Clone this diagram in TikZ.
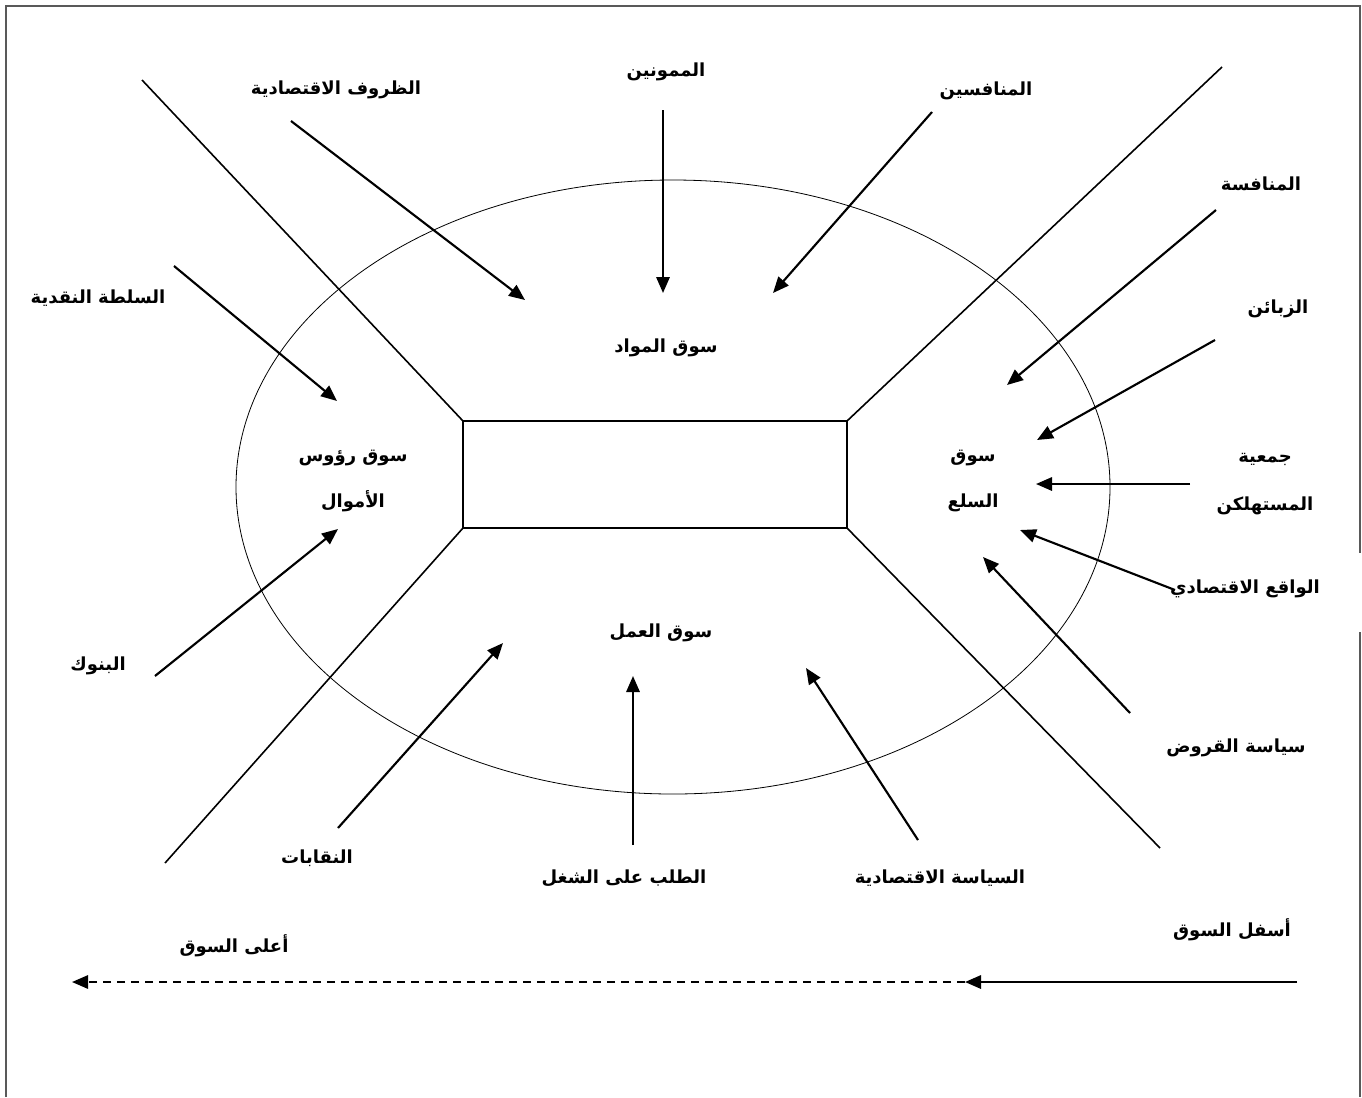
\documentclass[tikz,border=0pt]{standalone}
\usepackage{fontspec}
\usetikzlibrary{arrows.meta,shapes.geometric}
\TeXXeTstate=1
\newfontfamily\arabicfont[Script=Arabic]{DejaVu Sans}
\newcommand{\artxt}[1]{{\arabicfont\bfseries\beginR #1\endR}}
\tikzset{
  lbl/.style={inner sep=1pt, font=\fontsize{13.5}{36}\selectfont, align=center},
  mkt/.style={inner sep=1pt, font=\fontsize{13.5}{34}\selectfont, align=center},
  tip/.style={-{Triangle[length=12pt,width=10pt]}},
  flow/.style={line width=1.6pt, tip},
  frame/.style={line width=0.9pt, draw=black!65},
  edge/.style={line width=1.2pt},
}
\begin{document}
\begin{tikzpicture}[x=0.75pt,y=-0.75pt]
\useasboundingbox (0,0) rectangle (1362,1097);

% page frame (open at the bottom)
\draw[frame] (6,1097) -- (6,6) -- (1360,6) -- (1360,553);
\draw[frame] (1360,632) -- (1360,1097);

% market ellipse and central firm
\node[draw, ellipse, minimum width=874*0.75pt, minimum height=614*0.75pt, line width=0.6pt, inner sep=0pt] (ell) at (673,487) {};
\coordinate (r1) at (463,421);
\coordinate (r2) at (847,421);
\coordinate (r3) at (847,528);
\coordinate (r4) at (463,528);
\draw[edge] (r1) rectangle (r3);

% corner rays
\coordinate (d1) at (142,80);
\coordinate (d2) at (1222,67);
\coordinate (d3) at (165,863);
\coordinate (d4) at (1160,848);
\draw[edge] (d1) -- (r1);
\draw[edge] (d2) -- (r2);
\draw[edge] (d3) -- (r4);
\draw[edge] (d4) -- (r3);

% market labels
\node[mkt] (mmat) at (666,348) {\artxt{سوق المواد}};
\node[mkt] (mcap) at (353,481) {\artxt{سوق رؤوس}\\\artxt{الأموال}};
\node[mkt] (mgoods) at (973,481) {\artxt{سوق}\\\artxt{السلع}};
\node[mkt] (mlab) at (661,633) {\artxt{سوق العمل}};

% external factors
\node[lbl] (t1) at (336,90) {\artxt{الظروف الاقتصادية}};
\node[lbl] (t2) at (666,72) {\artxt{الممونين}};
\node[lbl] (t3) at (986,91) {\artxt{المنافسين}};
\node[lbl] (t4) at (1261,184) {\artxt{المنافسة}};
\node[lbl] (t5) at (1278,309) {\artxt{الزبائن}};
\node[lbl] (t6) at (1265,484) {\artxt{جمعية}\\\artxt{المستهلكن}};
\node[lbl] (t7) at (1245,589) {\artxt{الواقع الاقتصادي}};
\node[lbl] (t8) at (1236,748) {\artxt{سياسة القروض}};
\node[lbl] (t9) at (940,878) {\artxt{السياسة الاقتصادية}};
\node[lbl] (t10) at (624,878) {\artxt{الطلب على الشغل}};
\node[lbl] (t11) at (317,858) {\artxt{النقابات}};
\node[lbl] (t12) at (98,666) {\artxt{البنوك}};
\node[lbl] (t13) at (98,298) {\artxt{السلطة النقدية}};
\node[lbl] (t14) at (234,946) {\artxt{أعلى السوق}};
\node[lbl] (t15) at (1232,930) {\artxt{أسفل السوق}};

% arrow end points
\coordinate (a1s) at (291,121);  \coordinate (a1e) at (525,300);
\coordinate (a2s) at (663,110);  \coordinate (a2e) at (663,293);
\coordinate (a3s) at (932,112);  \coordinate (a3e) at (773,293);
\coordinate (a4s) at (1216,210); \coordinate (a4e) at (1007,385);
\coordinate (a5s) at (1215,340); \coordinate (a5e) at (1037,440);
\coordinate (a6s) at (1190,484); \coordinate (a6e) at (1036,484);
\coordinate (a7s) at (1175,590); \coordinate (a7e) at (1020,530);
\coordinate (a8s) at (1130,713); \coordinate (a8e) at (983,557);
\coordinate (a9s) at (918,840);  \coordinate (a9e) at (806,668);
\coordinate (a10s) at (633,845); \coordinate (a10e) at (633,676);
\coordinate (a11s) at (338,828); \coordinate (a11e) at (503,643);
\coordinate (a12s) at (155,676); \coordinate (a12e) at (338,529);
\coordinate (a13s) at (174,266); \coordinate (a13e) at (337,401);
\foreach \i in {1,...,13}{\draw[flow] (a\i s) -- (a\i e);}

% market direction
\coordinate (b1) at (1297,982);
\coordinate (b2) at (965,982);
\coordinate (b3) at (72,982);
\draw[flow] (b1) -- (b2);
\draw[line width=1.4pt, dash pattern=on 6pt off 4.5pt, tip] (b2) -- (b3);
\end{tikzpicture}
\end{document}
